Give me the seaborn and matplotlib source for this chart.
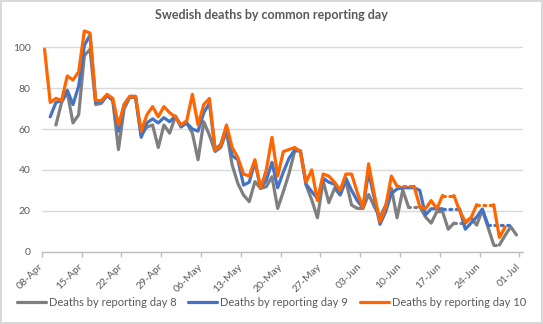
import numpy as np
import pandas as pd
import matplotlib
matplotlib.use("Agg")
import matplotlib.pyplot as plt
from matplotlib.lines import Line2D
import seaborn as sns

nan = np.nan

# Daily deaths (from 08-Apr) as known N days after each date
day8 = [nan, nan, 62, 73, 78, 63, 67, 96, 99, 72,
        72.6, 76.5, 74, 50, 70, 75.5, 75.5, 57, 61, 62,
        51, 62, 58, 66, 62, 63, 58, 45, 63.6, 57,
        49, 51, 58.7, 42.4, 33.4, 27.7, 24.5, 34.3, 31, 31.8,
        36.7, 21.2, 29.4, 38.3, 49.3, 49.3, 32.6, 25.3, 16.6, 34.6,
        24, 31, 27.7, 34.6, 22.8, 21.2, 21.2, 28, 22, 17,
        22.8, 31, 16.6, 30.2, 22, 22, 22, 17, 14, 19.6,
        19.6, 11, 14, 14, 14, 16.6, 13, 20.4, 12, 3.3,
        3.3, 8, 12.2, 8.2]
day9 = [nan, 66, 73, 74, 79, 72, 81, 101, 106, 73,
        73.5, 76.5, 74, 59, 72, 76, 76, 56, 63, 65,
        63, 65.6, 63.6, 66.4, 61, 63, 60, 59, 68, 72.6,
        50, 52.5, 61, 47, 45, 32.6, 34, 44, 31, 35,
        43.7, 31.3, 39, 45.7, 49.8, 49.3, 33, 29.4, 26, 36,
        34, 33, 28, 36, 30, 25, 21.5, 39, 26, 13.4,
        19.6, 28.5, 30.7, 31.3, 31.3, 31.3, 30, 18, 21, 21,
        21, 21, 21, 21, 11, 14, 17, 20.9, 13, 13,
        13, 13, 13, nan]
day10 = [99, 73, 75, 74, 86, 84, 88, 108, 107, 74,
         74, 77, 75, 62, 72, 76, 76, 59, 67, 71,
         66, 71, 68, 66, 62, 64, 77, 62, 72, 75,
         50, 52, 62, 51, 46, 38, 37, 45, 31, 40,
         56, 37, 49, 50, 51, 49, 34, 40, 25, 38,
         37, 34, 30, 38, 38, 29, 21.5, 43, 28, 14.7,
         22, 37, 32, 32, 32, 32, 22, 21, 25, 21,
         27.5, 27.5, 27.5, 20, 14.7, 16.5, 23, 23, 23, 23,
         7, 12, nan, nan]

# Days without a fresh report: value carried over, drawn dotted
day8_carried = [65, 66, 73, 74, 80]
day9_carried = [71, 72, 73, 79, 80, 81, 82]
day10_carried = [63, 64, 65, 71, 72, 77, 78, 79]

series_names = ["Deaths by reporting day 8",
                "Deaths by reporting day 9",
                "Deaths by reporting day 10"]
series_colors = ["#7F7F7F", "#4472C4", "#FF6600"]
x_tick_labels = ["08-Apr", "15-Apr", "22-Apr", "29-Apr", "06-May", "13-May",
                 "20-May", "27-May", "03-Jun", "10-Jun", "17-Jun", "24-Jun",
                 "01-Jul"]
y_ticks = [0, 20, 40, 60, 80, 100]

# Split every series into runs of solid (reported) and dotted (carried) segments
rows = []
run = 0
for name, vals, carried in zip(series_names, [day8, day9, day10],
                               [day8_carried, day9_carried, day10_carried]):
    vals = np.asarray(vals, float)
    carried = set(carried)
    prev_kind, prev_i = None, None
    for i in range(1, len(vals)):
        if np.isnan(vals[i - 1]) or np.isnan(vals[i]):
            continue
        kind = "carried" if i in carried else "reported"
        if kind != prev_kind or prev_i != i - 1:
            run += 1
            rows.append((run, name, kind, i - 1 + 0.5, vals[i - 1]))
        rows.append((run, name, kind, i + 0.5, vals[i]))
        prev_kind, prev_i = kind, i
df = pd.DataFrame(rows, columns=["run", "series", "kind", "day", "deaths"])

sns.set_theme(style="white")
plt.rcParams["font.family"] = ["Lato", "DejaVu Sans"]
plt.rcParams["lines.solid_joinstyle"] = "round"
plt.rcParams["lines.dash_capstyle"] = "round"

text_col = "#595959"
fig = plt.figure(figsize=(5.43, 3.24), dpi=100)
fig.patch.set_facecolor("white")
fig.patch.set_edgecolor("#D9D9D9")
fig.patch.set_linewidth(1.5)

ax = fig.add_axes([41.7 / 543, 1 - 251.7 / 324, (523 - 41.7) / 543, (251.7 - 26.9) / 324])

sns.lineplot(data=df, x="day", y="deaths", hue="series", style="kind",
             units="run", estimator=None, sort=False,
             hue_order=series_names,
             palette=dict(zip(series_names, series_colors)),
             dashes={"reported": "", "carried": (0.6, 1.4)},
             linewidth=2.3, legend=False, ax=ax)

ax.set_xlim(0, 84.65)
ax.set_ylim(0, 110)
ax.set_yticks(y_ticks)
ax.set_yticklabels([str(v) for v in y_ticks])
ax.set_xticks(np.arange(len(x_tick_labels)) * 7)
ax.set_xticklabels(x_tick_labels, rotation=45, ha="right", va="center",
                   rotation_mode="anchor")
ax.set_xlabel("")
ax.set_ylabel("")
ax.grid(axis="y", color="#D9D9D9", linewidth=1)
ax.set_axisbelow(True)
for side in ["top", "right", "left"]:
    ax.spines[side].set_visible(False)
ax.spines["bottom"].set_color("#BFBFBF")
ax.spines["bottom"].set_linewidth(1)
ax.tick_params(axis="x", length=3.5, width=1, color="#BFBFBF", pad=6,
               labelsize=7.5, labelcolor=text_col, direction="out", bottom=True)
ax.tick_params(axis="y", length=0, pad=8, labelsize=7.5, labelcolor=text_col)

fig.text(0.5, 1 - 15 / 324, "Swedish deaths by common reporting day",
         ha="center", va="center", fontsize=9, fontweight="bold",
         color=text_col)

handles = [Line2D([], [], color=c, linewidth=2.3) for c in series_colors]
fig.legend(handles, series_names, loc="center", bbox_to_anchor=(0.5, 1 - 302 / 324),
           ncol=3, frameon=False, fontsize=8, labelcolor=text_col,
           handlelength=2.6, handletextpad=0.25, columnspacing=1.1)

fig.savefig("out.png", dpi=100, facecolor=fig.get_facecolor(),
            edgecolor=fig.get_edgecolor())
